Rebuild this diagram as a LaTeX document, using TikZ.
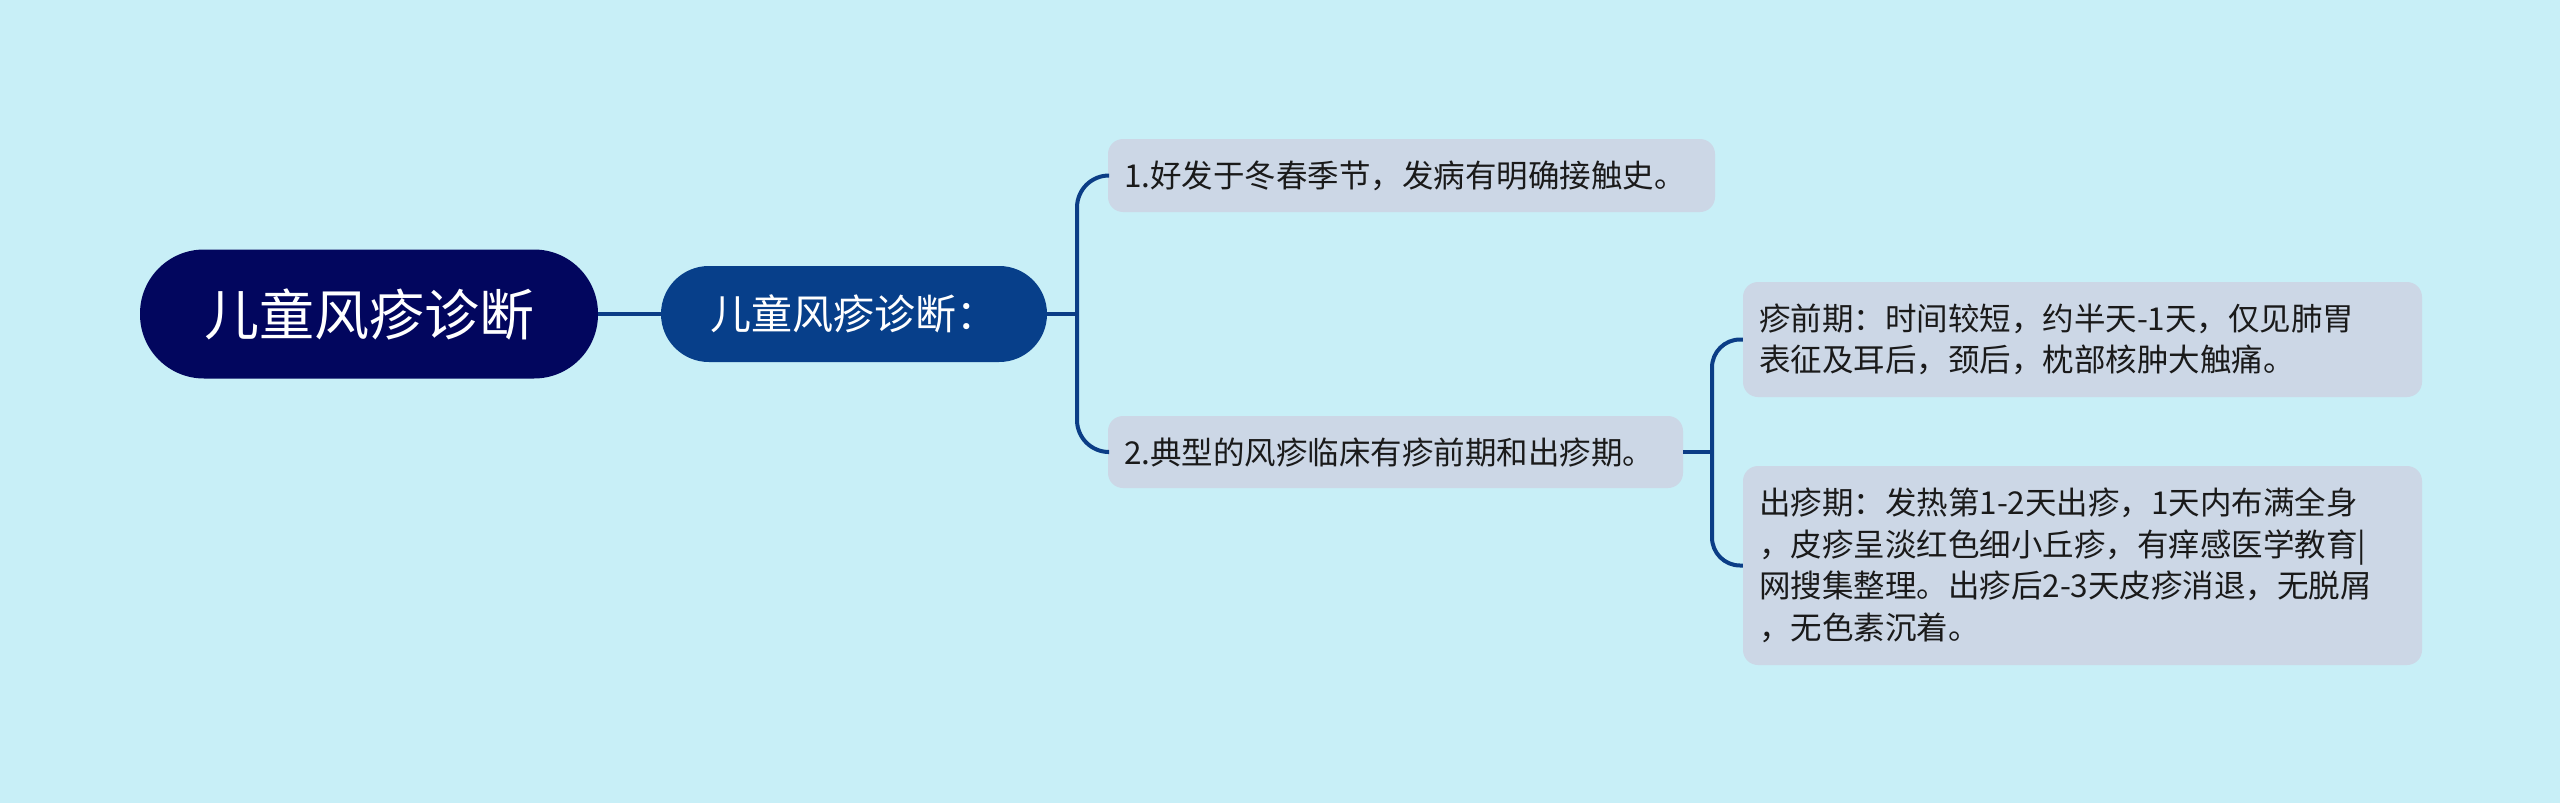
\documentclass[tikz,border=0pt]{standalone}
\usepackage{fontspec}
\setmainfont{Noto Sans CJK SC}
\definecolor{bgc}{HTML}{C8EFF7}
\definecolor{rootc}{HTML}{02065E}
\definecolor{mainc}{HTML}{073F8A}
\definecolor{linec}{HTML}{0B3D86}
\definecolor{boxc}{HTML}{CCD7E6}
\definecolor{txtc}{HTML}{1A1A1A}
\begin{document}
\begin{tikzpicture}[x=1pt,y=-1pt,
  conn/.style={draw=linec,line width=4pt},
  rootbox/.style={fill=rootc,text=white,rounded corners=64pt,minimum width=458pt,minimum height=129pt,inner sep=0pt,font=\fontsize{55}{60}\selectfont},
  mainbox/.style={fill=mainc,text=white,rounded corners=47.9pt,minimum width=386pt,minimum height=96pt,inner sep=0pt,font=\fontsize{41}{46}\selectfont},
  leafbox/.style={fill=boxc,text=txtc,rounded corners=15pt,inner xsep=16pt,inner ysep=0pt,align=left,font=\fontsize{31.5}{41.5}\selectfont}
]
\fill[bgc] (0,0) rectangle (2560,803);
\useasboundingbox (0,0) rectangle (2560,803);

\node[rootbox] (root) at (369,314) {儿童风疹诊断};
\node[mainbox] (main) at (854,314) {儿童风疹诊断：};

\node[leafbox,text width=575pt,minimum height=73pt] (b1) at (1411.5,175.5) {1.好发于冬春季节，发病有明确接触史。};
\node[leafbox,text width=543pt,minimum height=72pt] (b2) at (1395.5,452) {2.典型的风疹临床有疹前期和出疹期。};
\node[leafbox,text width=647pt,minimum height=115pt] (b3) at (2082.5,339.5) {疹前期：时间较短，约半天-1天，仅见肺胃\\表征及耳后，颈后，枕部核肿大触痛。};
\node[leafbox,text width=647pt,minimum height=199pt] (b4) at (2082.5,565.5) {出疹期：发热第1-2天出疹，1天内布满全身\\，皮疹呈淡红色细小丘疹，有痒感医学教育|\\网搜集整理。出疹后2-3天皮疹消退，无脱屑\\，无色素沉着。};

\coordinate (j1) at (1077,314);
\coordinate (j2) at (1712,452);

\draw[conn] (root.east) -- (main.west);
\draw[conn] (main.east) -- (j1);
\draw[conn,rounded corners=32pt] (b1.west) -| (j1) |- (b2.west);
\draw[conn] (b2.east) -- (j2);
\draw[conn,rounded corners=28pt] (b3.west) -| (j2) |- (b4.west);
\end{tikzpicture}
\end{document}
